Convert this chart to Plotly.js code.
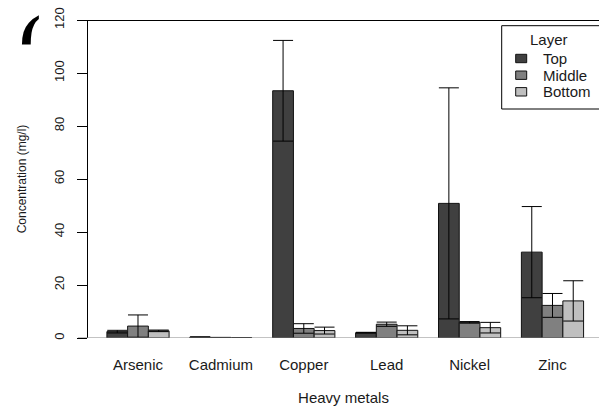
<!DOCTYPE html>
<html>
<head>
<meta charset="utf-8">
<script src="https://cdn.plot.ly/plotly-3.0.1.min.js"></script>
<style>html,body{margin:0;padding:0;background:#fff;overflow:hidden}#chart{width:599px;height:408px}</style>
</head>
<body>
<div id="chart"></div>
<script>
// ---- data ----
var metals = ["Arsenic", "Cadmium", "Copper", "Lead", "Nickel", "Zinc"];
var layers = ["Top", "Middle", "Bottom"];
var topMean = [2.4, 0.35, 93.3, 2.0, 50.8, 32.4];
var topSd = [0.5, 0.05, 19.0, 0.15, 43.6, 17.2];
var middleMean = [4.5, 0.03, 3.6, 5.2, 5.9, 12.3];
var middleSd = [4.2, 0.2, 1.8, 0.8, 0.3, 4.5];
var bottomMean = [2.7, 0.02, 2.8, 2.9, 3.9, 14.0];
var bottomSd = [0.3, 0.05, 1.3, 1.7, 2.0, 7.6];
var yTicks = [0, 20, 40, 60, 80, 100, 120];

// ---- styling ----
var colors = ["#404040", "#808080", "#bfbfbf"];
var FONT = "Liberation Sans, Arial, sans-serif";
var W = 599, H = 408;
var L = 88, T = 20, B = 70, R = 0;
var plotW = W - L - R, plotH = H - T - B;
function px(x) { return (x - L) / plotW; }
function py(y) { return (H - B - y) / plotH; }

var means = [topMean, middleMean, bottomMean];
var sds = [topSd, middleSd, bottomSd];
var traces = layers.map(function (name, i) {
  return {
    type: "bar", name: name, x: metals, y: means[i],
    marker: { color: colors[i], line: { color: "#111", width: 1 } },
    error_y: { type: "data", array: sds[i], visible: true, color: "#000", thickness: 1, width: 10 },
    showlegend: false, hoverinfo: "x+y+name"
  };
});

var shapes = [
  { type: "line", xref: "paper", yref: "paper", x0: px(78), x1: 1.05, y0: py(20.5), y1: py(20.5), line: { color: "#000", width: 1 } },
  { type: "line", xref: "paper", yref: "y", x0: px(78), x1: 1.05, y0: 0, y1: 0, line: { color: "#888", width: 1.2 }, layer: "above" },
  // legend frame
  { type: "rect", xref: "paper", yref: "paper", x0: px(501.7), x1: px(610), y0: py(25.7), y1: py(109), line: { color: "#000", width: 1 }, fillcolor: "rgba(0,0,0,0)" }
];
var annotations = [
  { xref: "paper", yref: "paper", x: px(549), y: py(39), text: "Layer", showarrow: false, xanchor: "center", yanchor: "middle", font: { family: FONT, size: 15, color: "#1a1a1a" } }
];
var rowY = [58.5, 75.2, 91.8];
layers.forEach(function (name, i) {
  shapes.push({ type: "rect", xref: "paper", yref: "paper", x0: px(515.7), x1: px(526.7), y0: py(rowY[i] - 4.2), y1: py(rowY[i] + 4.2), fillcolor: colors[i], line: { color: "#111", width: 1 } });
  annotations.push({ xref: "paper", yref: "paper", x: px(540.5), y: py(rowY[i]), text: name, showarrow: false, xanchor: "left", yanchor: "middle", font: { family: FONT, size: 15, color: "#1a1a1a" } });
});
// cut-off panel label at top-left
annotations.push({ xref: "paper", yref: "paper", x: px(30), y: py(0), text: "<b>(</b>", showarrow: false, xanchor: "center", yanchor: "top", font: { family: "Liberation Serif, serif", size: 66, color: "#000" } });
annotations.push({ xref: "paper", yref: "paper", x: px(28), y: py(44), text: " ", showarrow: false, xanchor: "center", yanchor: "top", width: 44, height: 70, bgcolor: "#fff", font: { size: 10 } });

var layout = {
  width: W, height: H,
  margin: { l: L, r: R, t: T, b: B, pad: 0 },
  paper_bgcolor: "#fff", plot_bgcolor: "#fff",
  barmode: "group", bargap: 0.25, bargroupgap: 0,
  showlegend: false,
  font: { family: FONT, color: "#1a1a1a" },
  xaxis: {
    type: "category", range: [-0.603, 5.561], showline: false, ticks: "", showgrid: false, zeroline: false,
    tickfont: { family: FONT, size: 15, color: "#1a1a1a" }, ticklabelstandoff: 16,
    title: { text: "Heavy metals", font: { family: FONT, size: 15, color: "#1a1a1a" }, standoff: 20 },
    automargin: false, fixedrange: true
  },
  yaxis: {
    range: [0, 120], tickvals: yTicks, ticktext: yTicks.map(String), tickangle: -90,
    showline: true, linecolor: "#000", linewidth: 1, ticks: "outside", ticklen: 10, tickcolor: "#000", tickwidth: 1,
    showgrid: false, zeroline: false,
    tickfont: { family: FONT, size: 13, color: "#1a1a1a" }, ticklabelstandoff: 8,
    title: { text: "Concentration (mg/l)", font: { family: FONT, size: 12, color: "#1a1a1a" }, standoff: 22 },
    automargin: false, fixedrange: true
  },
  shapes: shapes,
  annotations: annotations
};
Plotly.newPlot("chart", traces, layout, { displayModeBar: false, staticPlot: true });
</script>
</body>
</html>
